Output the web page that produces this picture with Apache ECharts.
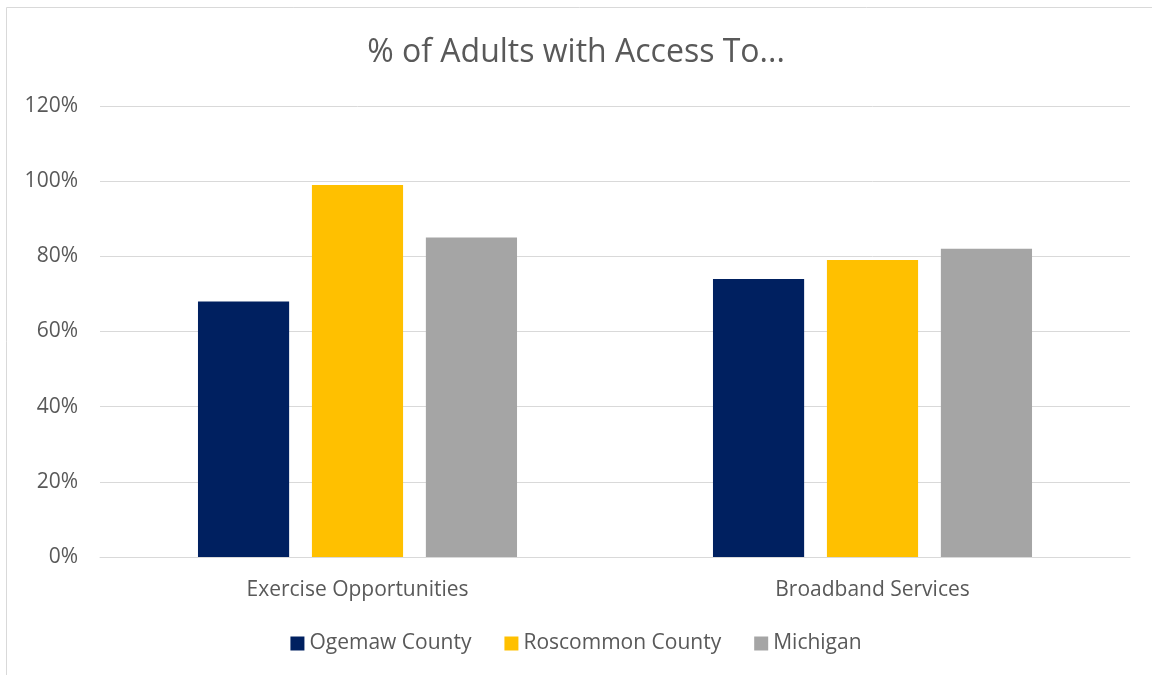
<!DOCTYPE html>
<html>
<head>
<meta charset="utf-8">
<script src="https://cdn.jsdelivr.net/npm/echarts@6/dist/echarts.min.js"></script>
<style>
  html, body { margin: 0; padding: 0; background: #fff; }
  #chart { width: 1152px; height: 675px; }
</style>
</head>
<body>
<div id="chart"></div>
<script>
const categories = ['Exercise Opportunities', 'Broadband Services']
const seriesNames = ['Ogemaw County', 'Roscommon County', 'Michigan']
const ogemaw = [68, 74]
const roscommon = [99, 79]
const michigan = [85, 82]
const colors = ['#002060', '#FFC000', '#A5A5A5']

const font = '"Open Sans", sans-serif'
const chart = echarts.init(document.getElementById('chart'))

const values = [ogemaw, roscommon, michigan]
const series = seriesNames.map((name, i) => ({
  name: name,
  type: 'bar',
  data: values[i],
  barWidth: '17.7%',
  barGap: '25%',
  itemStyle: { color: colors[i] }
}))

chart.setOption({
  animation: false,
  textStyle: { fontFamily: font },
  graphic: [{
    type: 'rect',
    shape: { x: 6.5, y: 7.5, width: 1200, height: 700 },
    style: { fill: 'none', stroke: '#d9d9d9', lineWidth: 1 }
  }],
  title: {
    text: '% of Adults with Access To...',
    left: 'center',
    top: 32,
    textStyle: { color: '#595959', fontSize: 32, fontWeight: 'normal', fontFamily: font }
  },
  legend: {
    bottom: 16,
    left: 'center',
    itemWidth: 14,
    itemHeight: 14,
    itemGap: 33,
    icon: 'rect',
    data: seriesNames,
    textStyle: { color: '#595959', fontSize: 21, fontFamily: font }
  },
  grid: { left: 100, right: 22, top: 106, bottom: 118 },
  xAxis: {
    type: 'category',
    data: categories,
    axisTick: { show: false },
    axisLine: { lineStyle: { color: '#d9d9d9' } },
    axisLabel: { color: '#595959', fontSize: 21, margin: 23, fontFamily: font }
  },
  yAxis: {
    type: 'value',
    min: 0,
    max: 120,
    interval: 20,
    axisLine: { show: false },
    axisTick: { show: false },
    splitLine: { lineStyle: { color: '#d9d9d9' } },
    axisLabel: { color: '#595959', fontSize: 21, margin: 22, formatter: '{value}%', fontFamily: font }
  },
  series: series
})
</script>
</body>
</html>
